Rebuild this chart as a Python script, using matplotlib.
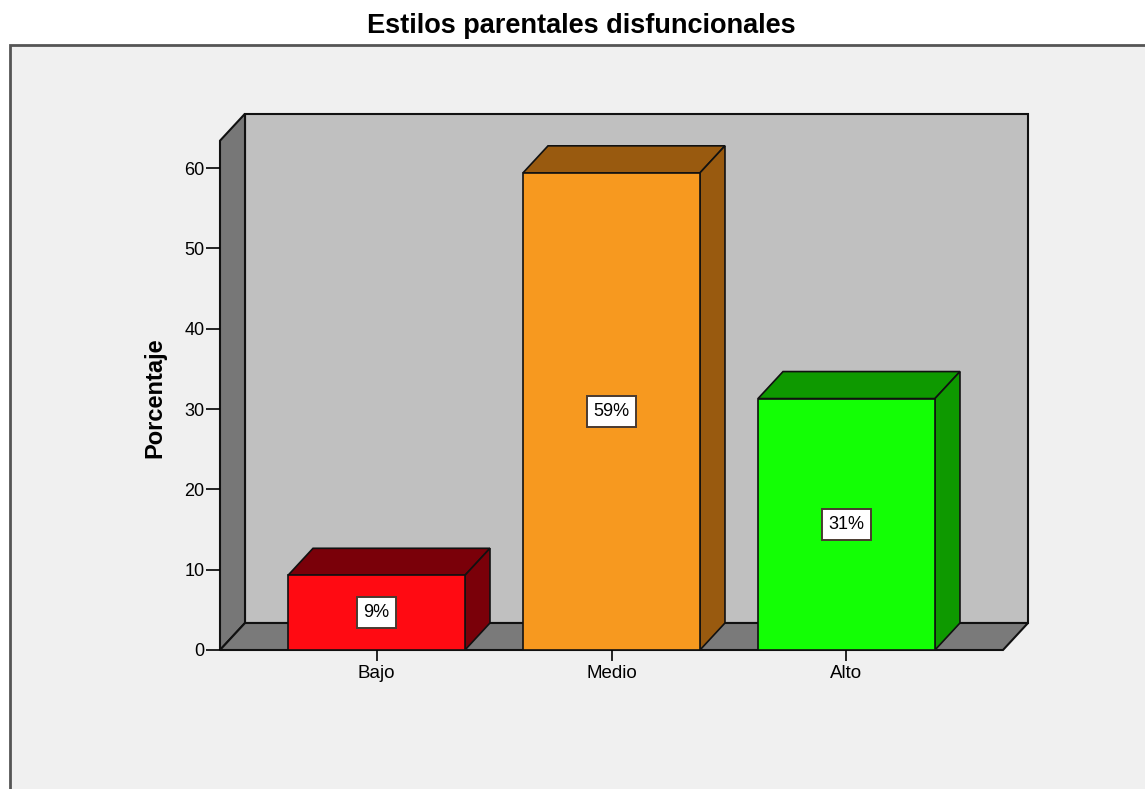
import numpy as np
import matplotlib
matplotlib.use("Agg")
import matplotlib.pyplot as plt
from matplotlib.patches import Polygon, Rectangle
from matplotlib.transforms import IdentityTransform

# ------------------------------------------------------------
# Data
# ------------------------------------------------------------
categories = ["Bajo", "Medio", "Alto"]
percentages = [9.3, 59.4, 31.3]
labels = ["9%", "59%", "31%"]

front_colors = ["#ff0a12", "#f7991f", "#13ff05"]
dark_colors = ["#7a0009", "#995a0f", "#0e9900"]

plt.rcParams["font.family"] = ["Liberation Sans", "DejaVu Sans"]

W, H, DPI = 1145, 789, 100
fig = plt.figure(figsize=(W / DPI, H / DPI), dpi=DPI, facecolor="white")

# outer light panel
fig.patches.append(Rectangle((10 / W, -0.1), 1.2, 1 - 45 / H + 0.1,
                             transform=fig.transFigure, facecolor="#f0f0f0",
                             edgecolor="#555555", lw=2, zorder=0))

fig.text(0.508, 1 - 26 / H, "Estilos parentales disfuncionales",
         ha="center", va="center", fontsize=19.5, fontweight="bold")

# front plane of the 3D box
ax = fig.add_axes([220 / W, 1 - 650 / H, (1003 - 220) / W, (650 - 140.7) / H])
ax.set_zorder(5)
ax.set_xlim(-0.666, 2.666)
ax.set_ylim(0, 63.4)
ax.patch.set_visible(False)
for s in ax.spines.values():
    s.set_visible(False)

DX, DY = 25, 27   # depth offset in pixels
ident = IdentityTransform()


def px(x, y):
    return ax.transData.transform((x, y))


def poly(pts, fc, z, lw=1.2):
    p = Polygon(pts, closed=True, facecolor=fc, edgecolor="#111111", lw=lw,
                transform=ident, zorder=z, clip_on=False)
    fig.patches.append(p)


x0, x1 = ax.get_xlim()
y0, y1 = ax.get_ylim()
off = np.array([DX, DY])

# back wall
bl, tr = px(x0, y0) + off, px(x1, y1) + off
poly([bl, [tr[0], bl[1]], tr, [bl[0], tr[1]]], "#c0c0c0", 1, lw=1.5)
# left side wall
poly([px(x0, y0), px(x0, y1), px(x0, y1) + off, px(x0, y0) + off], "#777777", 2, lw=1.5)
# floor
poly([px(x0, y0), px(x1, y0), px(x1, y0) + off, px(x0, y0) + off], "#7a7a7a", 2, lw=1.5)

width = 0.753
xs = np.arange(len(categories))
for i, (v, fc, dc) in enumerate(zip(percentages, front_colors, dark_colors)):
    l, r = xs[i] - width / 2, xs[i] + width / 2
    # top face
    poly([px(l, v), px(r, v), px(r, v) + off, px(l, v) + off], dc, 3)
    # right side face
    poly([px(r, 0), px(r, v), px(r, v) + off, px(r, 0) + off], dc, 3)

ax.bar(xs, percentages, width=width, color=front_colors, edgecolor="#111111",
       lw=1.2, zorder=4)

for i, (v, t) in enumerate(zip(percentages, labels)):
    ax.text(xs[i], v / 2, t, ha="center", va="center", fontsize=13, zorder=6,
            bbox=dict(boxstyle="square,pad=0.38", facecolor="white",
                      edgecolor="#4a3a30", lw=1.4))

ax.set_xticks(xs)
ax.set_xticklabels(categories, fontsize=13.5)
ax.set_yticks(np.arange(0, 61, 10))
ax.tick_params(axis="y", length=10, width=1.2, labelsize=13, pad=1)
ax.tick_params(axis="x", length=8, width=1.2, labelsize=13.5, pad=3)

ax.set_ylabel("Porcentaje", fontsize=17, fontweight="bold")
ax.yaxis.set_label_coords(-0.068, 0.495)

fig.savefig("out.png", dpi=DPI)
